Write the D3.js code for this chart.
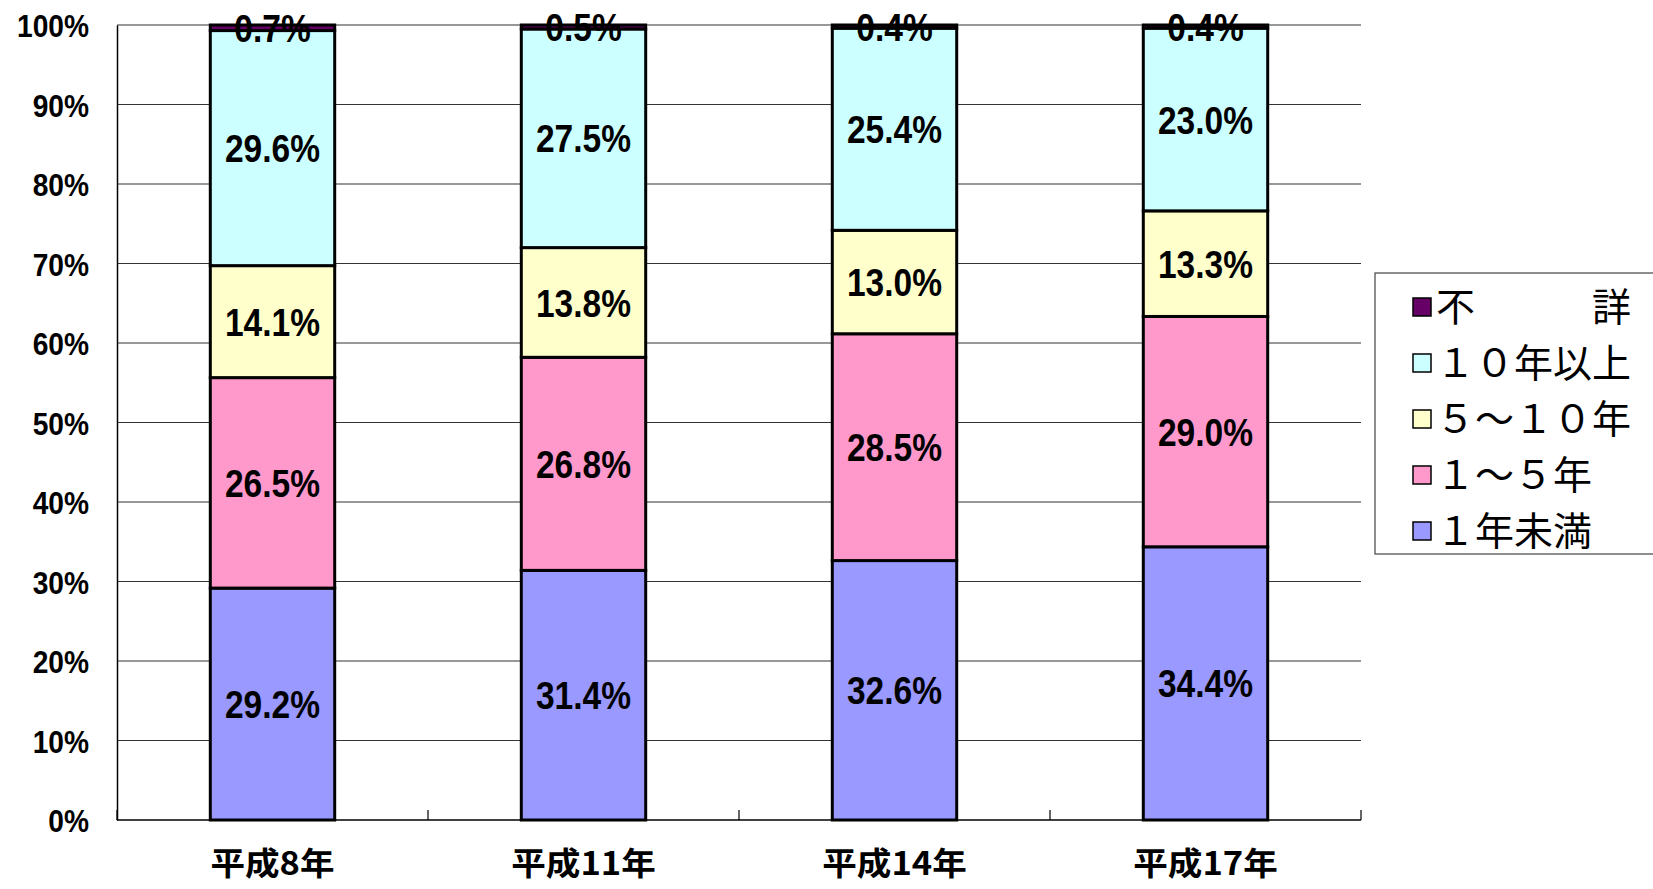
<!DOCTYPE html>
<html>
<head>
<meta charset="utf-8">
<script src="https://cdn.jsdelivr.net/npm/d3@7"></script>
<style>
  html, body { margin: 0; padding: 0; background: #fff; overflow: hidden; }
  svg { display: block; }
</style>
</head>
<body>
<div id="chart"></div>
<script>
// chart values
const years = ['平成8年', '平成11年', '平成14年', '平成17年'];
const lessThan1 = [29.2, 31.4, 32.6, 34.4];
const oneToFive = [26.5, 26.8, 28.5, 29.0];
const fiveToTen = [14.1, 13.8, 13.0, 13.3];
const tenPlus = [29.6, 27.5, 25.4, 23.0];
const unknown = [0.7, 0.5, 0.4, 0.4];
const seriesKeys = ['lessThan1', 'oneToFive', 'fiveToTen', 'tenPlus', 'unknown'];
const seriesNames = ['１年未満', '１～５年', '５～１０年', '１０年以上', '不　　　詳'];
const seriesColors = ['#9999ff', '#ff99cc', '#ffffcc', '#ccffff', '#660066'];
const yTicks = [0, 0.1, 0.2, 0.3, 0.4, 0.5, 0.6, 0.7, 0.8, 0.9, 1];

const width = 1653;
const height = 889;
const plot = { left: 117, right: 1361, top: 25, bottom: 820 };

const rows = years.map((yr, i) => ({
    year: yr,
    lessThan1: lessThan1[i],
    oneToFive: oneToFive[i],
    fiveToTen: fiveToTen[i],
    tenPlus: tenPlus[i],
    unknown: unknown[i]
}));

const svg = d3.select('#chart')
    .append('svg')
    .attr('width', width)
    .attr('height', height);

const x = d3.scaleBand()
    .domain(years)
    .range([plot.left, plot.right])
    .paddingInner(0.6)
    .paddingOuter(0.3);

const y = d3.scaleLinear()
    .domain([0, 1])
    .range([plot.bottom, plot.top]);

const color = d3.scaleOrdinal().domain(seriesKeys).range(seriesColors);

const stacked = d3.stack()
    .keys(seriesKeys)
    .offset(d3.stackOffsetExpand)(rows);

// gridlines
svg.append('g')
    .selectAll('line')
    .data(yTicks.slice(1))
    .enter()
    .append('line')
    .attr('x1', plot.left)
    .attr('x2', plot.right)
    .attr('y1', d => y(d))
    .attr('y2', d => y(d))
    .attr('stroke', '#333')
    .attr('stroke-width', 1.2);

// y axis
const yAxis = svg.append('g')
    .attr('transform', `translate(${plot.left},0)`)
    .call(d3.axisLeft(y).tickValues(yTicks).tickSize(0).tickPadding(28).tickFormat(d3.format('.0%')));
yAxis.select('.domain').attr('stroke', '#000').attr('stroke-width', 1.5);
yAxis.selectAll('text')
    .attr('font-family', '"Liberation Sans", Arial, sans-serif')
    .attr('font-weight', 'bold')
    .attr('font-size', 32)
    .attr('fill', '#000')
    .attr('dy', '0.36em')
    .attr('transform', 'scale(0.88,1)')
    .attr('x', -28 / 0.88);

// x axis line and category ticks
const step = x.step();
const boundaries = d3.range(years.length + 1).map(i => plot.left + i * step);
svg.append('line')
    .attr('x1', plot.left).attr('x2', plot.right)
    .attr('y1', plot.bottom).attr('y2', plot.bottom)
    .attr('stroke', '#000').attr('stroke-width', 1.5);
svg.append('g')
    .selectAll('line')
    .data(boundaries)
    .enter()
    .append('line')
    .attr('x1', d => d).attr('x2', d => d)
    .attr('y1', plot.bottom).attr('y2', plot.bottom - 10)
    .attr('stroke', '#000').attr('stroke-width', 1.2);

// bars
const layer = svg.append('g')
    .selectAll('g')
    .data(stacked)
    .enter()
    .append('g')
    .attr('fill', d => color(d.key));

layer.selectAll('rect')
    .data(d => d)
    .enter()
    .append('rect')
    .attr('x', d => x(d.data.year))
    .attr('width', x.bandwidth())
    .attr('y', d => y(d[1]))
    .attr('height', d => y(d[0]) - y(d[1]))
    .attr('stroke', '#000')
    .attr('stroke-width', 3);

// value labels
svg.append('g')
    .selectAll('g')
    .data(stacked)
    .enter()
    .append('g')
    .selectAll('text')
    .data(d => d.map(p => ({ p: p, key: d.key })))
    .enter()
    .append('text')
    .attr('transform', d => {
        const cx = x(d.p.data.year) + x.bandwidth() / 2;
        const cy = (y(d.p[0]) + y(d.p[1])) / 2;
        return `translate(${cx},${cy}) scale(0.86,1)`;
    })
    .attr('text-anchor', 'middle')
    .attr('dy', '0.36em')
    .attr('font-family', '"Liberation Sans", Arial, sans-serif')
    .attr('font-weight', 'bold')
    .attr('font-size', 39)
    .attr('fill', '#000')
    .text(d => d.p.data[d.key].toFixed(1) + '%');

// category labels
svg.append('g')
    .selectAll('text')
    .data(years)
    .enter()
    .append('text')
    .attr('transform', d => `translate(${x(d) + x.bandwidth() / 2},863) scale(1.08,1)`)
    .attr('dy', '0.36em')
    .attr('text-anchor', 'middle')
    .attr('font-family', '"Noto Sans CJK JP", sans-serif')
    .attr('font-weight', 'bold')
    .attr('font-size', 32)
    .attr('fill', '#000')
    .text(d => d);

// legend
const legend = svg.append('g').attr('transform', 'translate(1375,273)');
legend.append('rect')
    .attr('width', 300)
    .attr('height', 281)
    .attr('fill', '#fff')
    .attr('stroke', '#444')
    .attr('stroke-width', 1.2);

const legendOrder = seriesKeys.slice().reverse();
const legendRow = d3.scalePoint()
    .domain(legendOrder)
    .range([34, 258]);

const item = legend.selectAll('g.item')
    .data(legendOrder)
    .enter()
    .append('g')
    .attr('class', 'item')
    .attr('transform', d => `translate(0,${legendRow(d)})`);

item.append('rect')
    .attr('x', 38)
    .attr('y', -9)
    .attr('width', 18)
    .attr('height', 18)
    .attr('fill', d => color(d))
    .attr('stroke', '#000')
    .attr('stroke-width', 1.5);

item.append('text')
    .attr('x', 61)
    .attr('dy', '0.36em')
    .attr('font-family', '"Noto Sans CJK JP", sans-serif')
    .attr('font-size', 39)
    .attr('fill', '#000')
    .style('white-space', 'pre')
    .text(d => seriesNames[seriesKeys.indexOf(d)]);
</script>
</body>
</html>
